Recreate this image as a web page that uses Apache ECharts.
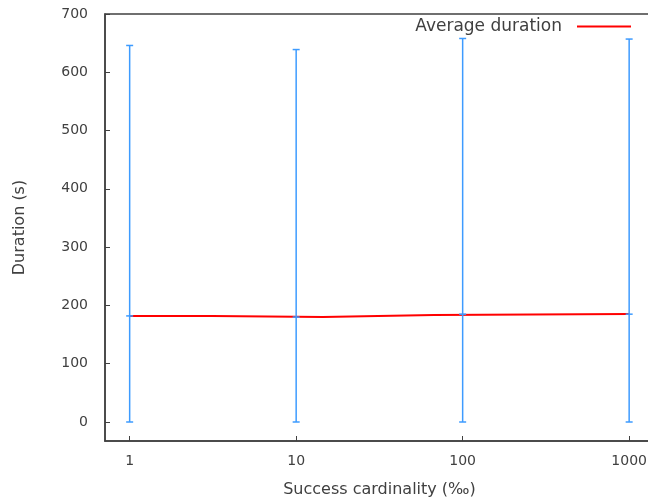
<!DOCTYPE html>
<html>
<head>
<meta charset="utf-8">
<script src="https://cdn.jsdelivr.net/npm/echarts@6/dist/echarts.min.js"></script>
<style>
  html, body { margin: 0; padding: 0; background: #fff; }
  #chart { width: 648px; height: 502px; }
</style>
</head>
<body>
<div id="chart"></div>
<script>
// Error bars: one per cardinality
const cardinality = [1, 10, 100, 1000];
const durMin = [0, 0, 0, 0];
const durMax = [646, 639, 658, 657];
const durMean = [182, 180, 185, 185];

// Average duration, drawn as steps (x where each level starts)
const avgX = [1, 3.12, 14.5, 31, 67.3, 1000];
const avgY = [182, 180, 181.8, 183.5, 185.2, 185.2];

const xTicks = [1, 10, 100, 1000];
const yTicks = [0, 100, 200, 300, 400, 500, 600, 700];

const textColor = '#404040';
const axisColor = '#404040';
const font = 'DejaVu Sans';

const chart = echarts.init(document.getElementById('chart'));

const errData = cardinality.map((c, i) => [c, durMin[i], durMax[i], durMean[i]]);

// Build the stair shape: each level holds until the next x, then jumps
const avgData = [];
avgX.forEach((x, i) => {
  if (i > 0) avgData.push([x, avgY[i - 1]]);
  avgData.push([x, avgY[i]]);
});

const renderErr = (params, api) => {
  const x = api.value(0);
  const lo = api.coord([x, api.value(1)]);
  const hi = api.coord([x, api.value(2)]);
  const mid = api.coord([x, api.value(3)]);
  const half = 3.5;
  const style = { stroke: '#3d9bff', lineWidth: 1.5 };
  const seg = (x1, y1, x2, y2) => ({ type: 'line', shape: { x1, y1, x2, y2 }, style });
  return {
    type: 'group',
    children: [
      seg(lo[0], lo[1], hi[0], hi[1]),
      seg(lo[0] - half, lo[1], lo[0] + half, lo[1]),
      seg(hi[0] - half, hi[1], hi[0] + half, hi[1]),
      seg(mid[0] - half, mid[1], mid[0] + half, mid[1]),
    ],
  };
};

chart.setOption({
  animation: false,
  textStyle: { fontFamily: font },
  grid: {
    left: 105,
    right: -6,
    top: 14,
    bottom: 61,
    outerBoundsMode: 'none',
    show: true,
    borderColor: axisColor,
    borderWidth: 1.5,
  },
  legend: {
    right: 17,
    top: 18,
    padding: 0,
    align: 'right',
    icon: 'rect',
    itemWidth: 54,
    itemHeight: 2,
    textStyle: { color: textColor, fontSize: 17, fontFamily: font, padding: [0, 10, 0, 0] },
    data: ['Average duration'],
  },
  xAxis: {
    type: 'log',
    logBase: 10,
    min: 0.711,
    max: 1410,
    name: 'Success cardinality (‰)',
    nameLocation: 'middle',
    nameGap: 41,
    nameTextStyle: { color: textColor, fontSize: 16, fontFamily: font },
    axisLine: { show: true, onZero: false, lineStyle: { color: axisColor, width: 1.5 } },
    axisTick: { show: true, inside: true, length: 5, customValues: xTicks, lineStyle: { color: axisColor } },
    axisLabel: {
      customValues: xTicks,
      color: textColor,
      fontSize: 14,
      margin: 13,
      fontFamily: font,
      formatter: v => String(v),
    },
    splitLine: { show: false },
    minorTick: { show: false },
  },
  yAxis: {
    type: 'value',
    min: -32.6,
    max: 700,
    name: 'Duration (s)',
    nameLocation: 'middle',
    nameGap: 77,
    nameTextStyle: { color: textColor, fontSize: 16, fontFamily: font },
    axisLine: { show: true, onZero: false, lineStyle: { color: axisColor, width: 1.5 } },
    axisTick: { show: true, inside: true, length: 5, customValues: yTicks, lineStyle: { color: axisColor } },
    axisLabel: { customValues: yTicks, color: textColor, fontSize: 14, margin: 17, fontFamily: font },
    splitLine: { show: false },
  },
  series: [
    {
      name: 'Average duration',
      type: 'line',
      data: avgData,
      showSymbol: false,
      symbol: 'none',
      itemStyle: { color: '#ff0000' },
      lineStyle: { color: '#ff0000', width: 2 },
      z: 2,
    },
    {
      name: 'Duration range',
      type: 'custom',
      data: errData,
      renderItem: renderErr,
      encode: { x: 0, y: [1, 2, 3] },
      z: 3,
    },
  ],
});
</script>
</body>
</html>
